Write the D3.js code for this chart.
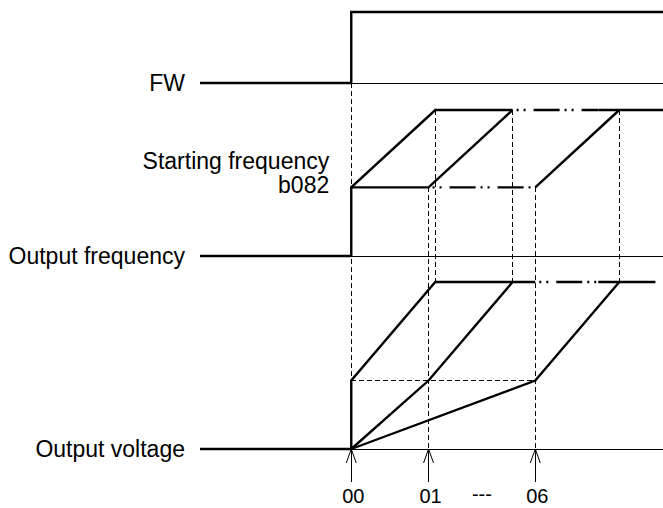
<!DOCTYPE html>
<html lang="en">
<head>
    <meta charset="utf-8">
    <title>Starting frequency timing</title>
    <style>
        body {
            margin: 0;
            background: #fff;
        }

        svg text {
            font-family: "Liberation Sans", Arial, sans-serif;
            fill: #000;
        }

        .thick { stroke: #000; stroke-width: 2.4; fill: none; }
        .thin { stroke: #000; stroke-width: 1; fill: none; shape-rendering: crispEdges; }
        .tip { stroke: #000; stroke-width: 1; fill: none; }
        .guide { stroke: #000; stroke-width: 1; stroke-dasharray: 5,3; fill: none; shape-rendering: crispEdges; }
        .dashdot { stroke: #000; stroke-width: 2.4; stroke-dasharray: 2,5,2,8,26,5; stroke-dashoffset: -4; fill: none; }
    </style>
</head>
<body>
<svg class="chart"></svg>
<script src="https://d3js.org/d3.v7.min.js"></script>
<script>

  const width = 663;
  const height = 508;

  // signal names, top to bottom
  const signals = ["FW", "Output frequency", "Output voltage"];

  // time in units of one acceleration ramp
  const timeRange = [-1.8, 3.71];
  const fwOnTime = 0;
  const rampTime = 1.0;

  // start timings chosen by parameter (00, 01 ... 06)
  const startCodes = ["00", "01", "06"];
  const startTimes = [0, 0.92, 2.19];

  // levels, as a fraction of the full level
  const startFreqLevel = 0.47;   // b082
  const boostVoltLevel = 0.41;
  const dashDotEnd = 2.94;        // where the "..." part of the top line stops
  const voltTopEnd = 3.62;

  const startFreqLabel = ["Starting frequency", "b082"];
  const betweenLabel = "---";

  // pixel layout of each signal: baseline and full level
  const rows = {
    "FW": {base: 83, top: 12},
    "Output frequency": {base: 256, top: 110},
    "Output voltage": {base: 449, top: 282}
  };

  const x = d3.scaleLinear().domain(timeRange).range([200, 663]);
  const y = {};
  signals.forEach(s => {
    y[s] = d3.scaleLinear().domain([0, 1]).range([rows[s].base, rows[s].top]);
  });

  const svg = d3.select(".chart")
    .attr("width", width)
    .attr("height", height);

  function draw(sig, pts, cls) {
    const line = d3.line().x(d => x(d[0])).y(d => y[sig](d[1]));
    svg.append("path").attr("class", cls).attr("d", line(pts));
  }

  const t0 = timeRange[0], tEnd = timeRange[1];
  const [tA, tB, tC] = startTimes;
  const s = startFreqLevel, b = boostVoltLevel;

  // dashed guides first so the signals sit on top
  const guides = [
    {t: fwOnTime, from: ["FW", 0], to: ["Output voltage", 0]},
    {t: tB, from: ["Output frequency", s], to: ["Output voltage", 0]},
    {t: tC, from: ["Output frequency", s], to: ["Output voltage", 0]}
  ];
  startTimes.forEach(t => {
    guides.push({t: t + rampTime, from: ["Output frequency", 1], to: ["Output voltage", 1]});
  });
  guides.forEach(g => {
    svg.append("line").attr("class", "guide")
      .attr("x1", x(g.t)).attr("x2", x(g.t))
      .attr("y1", y[g.from[0]](g.from[1]))
      .attr("y2", y[g.to[0]](g.to[1]));
  });
  draw("Output voltage", [[tA, b], [tC, b]], "guide");

  // baselines: thick before the run command, thin after
  signals.forEach(sig => {
    draw(sig, [[t0, 0], [fwOnTime, 0]], "thick");
    draw(sig, [[fwOnTime, 0], [tEnd, 0]], "thin");
  });

  // FW command
  draw("FW", [[fwOnTime, 0], [fwOnTime, 1], [tEnd, 1]], "thick");

  // output frequency
  draw("Output frequency", [[tA, 0], [tA, s], [tA + rampTime, 1], [tB + rampTime, 1]], "thick");
  draw("Output frequency", [[tA, s], [tB, s], [tB + rampTime, 1]], "thick");
  draw("Output frequency", [[tB, s], [tC, s]], "dashdot");
  draw("Output frequency", [[tC, s], [tC + rampTime, 1]], "thick");
  draw("Output frequency", [[tB + rampTime, 1], [dashDotEnd, 1]], "dashdot");
  draw("Output frequency", [[dashDotEnd, 1], [tEnd, 1]], "thick");

  // output voltage
  draw("Output voltage", [[tA, 0], [tA, b], [tA + rampTime, 1], [tC, 1]], "thick");
  draw("Output voltage", [[tA, 0], [tB, b], [tB + rampTime, 1]], "thick");
  draw("Output voltage", [[tA, 0], [tC, b], [tC + rampTime, 1]], "thick");
  draw("Output voltage", [[tC, 1], [dashDotEnd, 1]], "dashdot");
  draw("Output voltage", [[dashDotEnd, 1], [voltTopEnd, 1]], "thick");

  // signal names
  svg.selectAll("text.name")
    .data(signals)
    .enter()
    .append("text")
    .attr("class", "name")
    .attr("x", 185)
    .attr("y", d => rows[d].base + 8)
    .attr("text-anchor", "end")
    .style("font-size", "23px")
    .text(d => d);

  // starting frequency note
  svg.selectAll("text.note")
    .data(startFreqLabel)
    .enter()
    .append("text")
    .attr("class", "note")
    .attr("x", x(fwOnTime) - 22)
    .attr("y", (d, i) => y["Output frequency"](s) - 18 + i * 24)
    .attr("text-anchor", "end")
    .style("font-size", "23px")
    .text(d => d);

  // start timing arrows
  const base = rows["Output voltage"].base;
  const arrows = svg.selectAll("g.arrow")
    .data(startTimes)
    .enter()
    .append("g")
    .attr("class", "arrow")
    .attr("transform", d => `translate(${x(d)},${base})`);
  arrows.append("line").attr("class", "thin")
    .attr("x1", 0).attr("x2", 0).attr("y1", 0).attr("y2", 33);
  arrows.append("path").attr("class", "tip")
    .attr("d", "M-5,14L0,0L5,14");

  svg.selectAll("text.code")
    .data(startCodes)
    .enter()
    .append("text")
    .attr("class", "code")
    .attr("x", (d, i) => x(startTimes[i]) + 2)
    .attr("y", 503)
    .attr("text-anchor", "middle")
    .style("font-size", "20px")
    .text(d => d);

  svg.append("text")
    .attr("x", x((tB + tC) / 2))
    .attr("y", 501)
    .attr("text-anchor", "middle")
    .style("font-size", "20px")
    .text(betweenLabel);

</script>
</body>
</html>
